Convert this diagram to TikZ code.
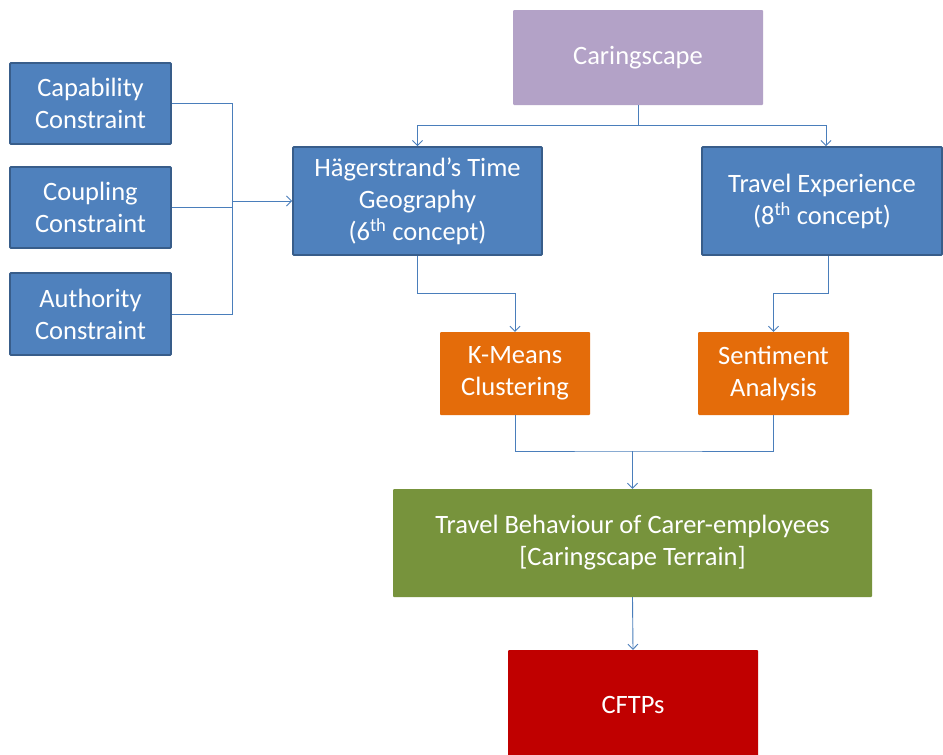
\documentclass[tikz,border=0pt]{standalone}
\usepackage{fontspec}
\setmainfont{Carlito}
\usetikzlibrary{arrows.meta}
\definecolor{boxblue}{HTML}{4F81BD}
\definecolor{edgeblue}{HTML}{385D8A}
\definecolor{lilac}{HTML}{B3A2C7}
\definecolor{boxorange}{HTML}{E46C0A}
\definecolor{boxgreen}{HTML}{77933C}
\definecolor{boxred}{HTML}{C00000}
\definecolor{linkblue}{HTML}{4A7EBB}
\begin{document}
\begin{tikzpicture}[x=1pt,y=-1pt,
  box/.style={rectangle, inner sep=0pt, align=center, text=white,
    font=\fontsize{26.5}{32}\selectfont, rounded corners=1pt},
  bluebox/.style={box, fill=boxblue, draw=edgeblue, line width=1.8pt},
  conn/.style={draw=linkblue, line width=0.9pt},
  arr/.style={conn, -{Straight Barb[length=5pt,width=10pt]}}]
\useasboundingbox[fill=white] (0,0) rectangle (943,755);

% constraint boxes on the left
\node[bluebox, minimum width=161, minimum height=81] (cap) at (90.5,103.5) {Capability\\Constraint};
\node[bluebox, minimum width=161, minimum height=81] (coup) at (90.5,207.5) {Coupling\\Constraint};
\node[bluebox, minimum width=161, minimum height=82] (auth) at (90.5,314) {Authority\\Constraint};

% top concept
\node[box, fill=lilac, minimum width=250, minimum height=95] (care) at (638,57.5) {Caringscape};

% two concepts
\node[bluebox, minimum width=249, minimum height=108] (hag) at (417.5,201)
  {Hägerstrand’s Time\\Geography\\(6\textsuperscript{th} concept)};
\node[bluebox, minimum width=240, minimum height=108] (tex) at (822,201)
  {Travel Experience\\(8\textsuperscript{th} concept)};

% methods
\node[box, fill=boxorange, minimum width=150, minimum height=83] (km) at (515,373.5) {K-Means\\Clustering};
\node[box, fill=boxorange, minimum width=151, minimum height=83] (sa) at (773.5,373.5) {Sentiment\\Analysis};

% outcome
\node[box, fill=boxgreen, minimum width=479, minimum height=108] (tb) at (632.5,543)
  {Travel Behaviour of Carer-employees\\{[}Caringscape Terrain{]}};
\node[box, fill=boxred, minimum width=250, minimum height=110] (cf) at (633,705) {CFTPs};

% constraints feed the time geography
\coordinate (j) at (232,201);
\draw[conn] (cap.east) -| (j);
\draw[conn] (auth.east) -| (j);
\draw[conn] (coup.east) -- (coup.east -| j);
\draw[arr] (j) -- (hag.west);

% caringscape splits into the two concepts
\coordinate (c1) at (638,125);
\draw[conn] (care.south) -- (c1);
\draw[arr] (c1) -| (hag.north);
\draw[arr] (c1) -| ([xshift=4pt]tex.north);

% concepts to methods
\draw[arr] (hag.south) -- ++(0,38) -| (km.north);
\draw[arr] ([xshift=6pt]tex.south) -- ++(0,38) -| (sa.north);

% methods merge into the outcome
\coordinate (m) at (632.5,451);
\draw[conn] (km.south) |- (m) -| (sa.south);
\draw[arr] (m) -- (tb.north);
\draw[arr] (tb.south) -- (cf.north);
\end{tikzpicture}
\end{document}
